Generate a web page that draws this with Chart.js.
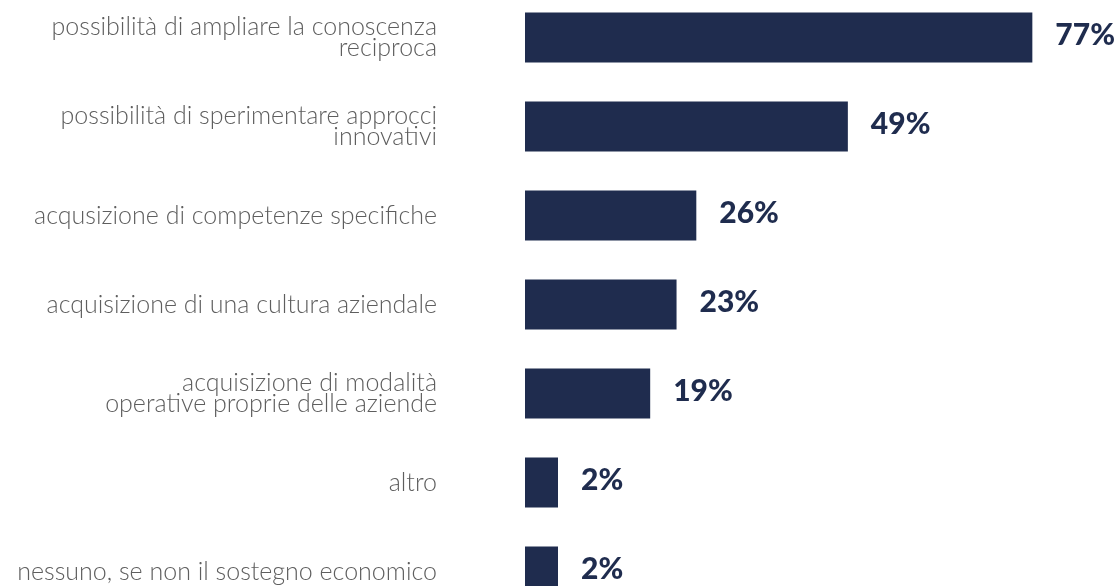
<!DOCTYPE html>
<html>
<head>
<meta charset="utf-8">
<script src="https://cdn.jsdelivr.net/npm/chart.js@4"></script>
<style>
  html, body { margin: 0; padding: 0; background: #ffffff; overflow: hidden; width: 1118px; height: 586px; }
  #wrap { position: absolute; left: 0; top: -7px; width: 1118px; height: 623px; }
  canvas { display: block; }
</style>
</head>
<body>
<div id="wrap"><canvas id="chart" width="1118" height="623"></canvas></div>
<script>
// Answer categories (multi-line entries are wrapped labels)
const categories = [
  ["possibilità di ampliare la conoscenza", "reciproca"],
  ["possibilità di sperimentare approcci", "innovativi"],
  "acqusizione di competenze specifiche",
  "acquisizione di una cultura aziendale",
  ["acquisizione di modalità", "operative proprie delle aziende"],
  "altro",
  "nessuno, se non il sostegno economico"
];

// Share of respondents, percent
const percentages = [77, 49, 26, 23, 19, 2, 2];

const NAVY = "#1f2c4e";

// Writes the percentage just past the end of each bar
const valueLabels = {
  id: "valueLabels",
  afterDatasetsDraw(chart) {
    const ctx = chart.ctx;
    const meta = chart.getDatasetMeta(0);
    ctx.save();
    ctx.fillStyle = NAVY;
    ctx.font = "900 30px Lato, 'Open Sans', sans-serif";
    ctx.textAlign = "left";
    ctx.textBaseline = "middle";
    meta.data.forEach((bar, i) => {
      ctx.fillText(percentages[i] + "%", bar.x + 23, bar.y - 2);
    });
    ctx.restore();
  }
};

new Chart(document.getElementById("chart"), {
  type: "bar",
  data: {
    labels: categories,
    datasets: [{
      data: percentages,
      backgroundColor: NAVY,
      borderWidth: 0,
      barPercentage: 0.562,
      categoryPercentage: 1,
      minBarLength: 33
    }]
  },
  options: {
    indexAxis: "y",
    responsive: false,
    animation: false,
    layout: { padding: 0 },
    plugins: {
      legend: { display: false },
      tooltip: { enabled: false }
    },
    scales: {
      x: {
        display: false,
        min: 0,
        max: 90
      },
      y: {
        grid: { display: false, drawTicks: false },
        border: { display: false },
        afterFit(scale) {
          // fixed label column; the plot itself runs edge to edge vertically
          scale.width = 525;
          scale.paddingTop = 0;
          scale.paddingBottom = 0;
        },
        ticks: {
          autoSkip: false,
          padding: 88,
          color: "#5e5e5e",
          font: { family: "Lato, 'Open Sans', sans-serif", size: 25, weight: 300, lineHeight: 0.85 }
        }
      }
    }
  },
  plugins: [valueLabels]
});
</script>
</body>
</html>
